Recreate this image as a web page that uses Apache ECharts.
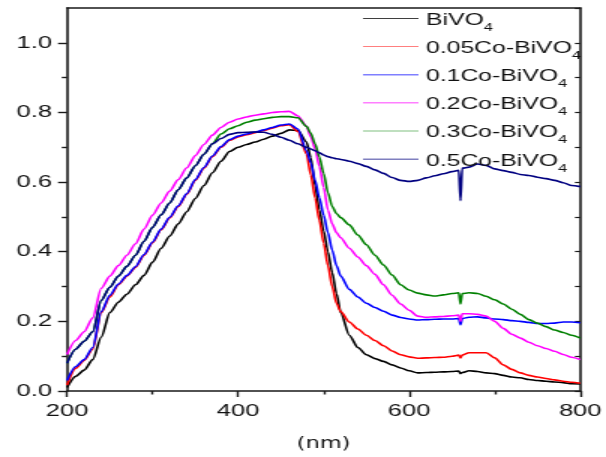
<!DOCTYPE html>
<html>
<head>
<meta charset="utf-8">
<script src="https://cdn.jsdelivr.net/npm/echarts@6/dist/echarts.min.js"></script>
<style>
html,body{margin:0;padding:0;background:#fff;overflow:hidden;}
#c{width:404px;height:457px;transform:scaleX(1.5);transform-origin:0 0;}
</style>
</head>
<body>
<div id="c"></div>
<script>
// Wavelength (nm)
const wavelengths = [200,210,220,230,240,250,260,270,280,290,300,310,320,330,340,350,360,370,380,390,400,410,420,430,440,450,460,470,480,485,490,495,500,505,510,515,520,530,540,550,560,570,580,590,600,610,620,630,640,650,658,660,662,670,680,690,700,710,720,730,740,750,760,770,780,790,800];

const seriesNames = ['BiVO4','0.05Co-BiVO4','0.1Co-BiVO4','0.2Co-BiVO4','0.3Co-BiVO4','0.5Co-BiVO4'];
const seriesColors = ['#000000','#ff0000','#0000ff','#ff00ff','#008000','#000080'];

const bivo4 = [0.010,0.042,0.060,0.090,0.155,0.225,0.255,0.278,0.305,0.332,0.370,0.410,0.445,0.480,0.515,0.553,0.590,0.627,0.660,0.688,0.700,0.708,0.715,0.723,0.732,0.740,0.750,0.748,0.715,0.670,0.590,0.520,0.460,0.400,0.340,0.280,0.225,0.160,0.125,0.104,0.093,0.085,0.075,0.066,0.058,0.052,0.053,0.054,0.055,0.056,0.057,0.050,0.053,0.058,0.056,0.052,0.050,0.045,0.040,0.038,0.033,0.030,0.028,0.026,0.024,0.021,0.020];
const co005 = [0.017,0.065,0.088,0.120,0.225,0.270,0.305,0.330,0.355,0.390,0.426,0.463,0.497,0.530,0.565,0.605,0.640,0.673,0.700,0.720,0.730,0.736,0.742,0.748,0.755,0.762,0.765,0.745,0.680,0.620,0.555,0.490,0.425,0.360,0.300,0.252,0.228,0.198,0.178,0.160,0.145,0.130,0.115,0.104,0.098,0.094,0.095,0.096,0.097,0.100,0.103,0.095,0.103,0.110,0.110,0.110,0.095,0.075,0.062,0.052,0.045,0.040,0.036,0.032,0.028,0.025,0.022];
const co01 = [0.030,0.070,0.090,0.125,0.228,0.275,0.307,0.332,0.357,0.392,0.428,0.465,0.499,0.532,0.567,0.607,0.642,0.675,0.702,0.722,0.732,0.738,0.744,0.750,0.757,0.764,0.767,0.752,0.690,0.655,0.605,0.555,0.505,0.455,0.405,0.360,0.330,0.292,0.270,0.252,0.240,0.229,0.218,0.211,0.207,0.204,0.205,0.206,0.207,0.207,0.208,0.190,0.208,0.212,0.213,0.210,0.207,0.205,0.202,0.200,0.197,0.194,0.194,0.195,0.198,0.198,0.196];
const co02 = [0.105,0.145,0.170,0.210,0.295,0.330,0.360,0.390,0.423,0.465,0.505,0.540,0.574,0.607,0.641,0.676,0.708,0.735,0.757,0.772,0.781,0.787,0.792,0.796,0.800,0.802,0.803,0.790,0.760,0.730,0.695,0.645,0.585,0.520,0.480,0.455,0.440,0.410,0.385,0.360,0.335,0.305,0.275,0.250,0.232,0.215,0.212,0.213,0.214,0.216,0.218,0.200,0.222,0.222,0.220,0.215,0.200,0.180,0.163,0.152,0.140,0.130,0.122,0.114,0.105,0.097,0.090];
const co03 = [0.080,0.120,0.143,0.170,0.260,0.298,0.330,0.358,0.390,0.430,0.470,0.506,0.540,0.578,0.612,0.647,0.680,0.710,0.738,0.753,0.762,0.772,0.778,0.782,0.786,0.788,0.788,0.785,0.760,0.740,0.710,0.672,0.625,0.570,0.530,0.510,0.498,0.477,0.448,0.420,0.390,0.362,0.333,0.305,0.290,0.281,0.276,0.273,0.276,0.280,0.282,0.250,0.280,0.282,0.280,0.272,0.262,0.250,0.235,0.220,0.205,0.195,0.185,0.175,0.168,0.160,0.152];
const co05 = [0.080,0.120,0.143,0.170,0.260,0.298,0.330,0.358,0.390,0.430,0.470,0.506,0.540,0.578,0.612,0.647,0.680,0.710,0.725,0.737,0.742,0.743,0.744,0.743,0.737,0.729,0.720,0.710,0.700,0.695,0.690,0.684,0.678,0.673,0.670,0.667,0.665,0.660,0.653,0.645,0.635,0.625,0.613,0.605,0.602,0.605,0.612,0.618,0.624,0.630,0.634,0.547,0.640,0.643,0.652,0.648,0.638,0.633,0.628,0.622,0.619,0.614,0.610,0.605,0.598,0.590,0.587];

const xTicks = [200,400,600,800];
const yTicks = [0,0.2,0.4,0.6,0.8,1.0];
const yMinorTicks = [0.1,0.3,0.5,0.7,0.9];

const allValues = [bivo4, co005, co01, co02, co03, co05];

const FONT = 'Liberation Sans, Arial, sans-serif';
const axisColor = '#1a1a1a';

const chart = echarts.init(document.getElementById('c'), null, {renderer:'canvas'});
chart.setOption({
  animation:false,
  backgroundColor:'#fff',
  grid:{left:44.7, right:14, top:8, bottom:66, containLabel:false},
  legend:{
    show:true, orient:'vertical', left:242, top:12, padding:0,
    icon:'path://M0,0L100,0L100,1.8L0,1.8ZM0,12L100,12', itemWidth:37, itemHeight:12, itemGap:6.6,
    data: seriesNames,
    formatter: function(n){ return '{a|' + n.slice(0,-1) + '}{s|' + n.slice(-1) + '}'; },
    textStyle:{
      color:'#111', fontFamily:FONT, fontSize:16.5,
      rich:{
        a:{fontFamily:FONT, fontSize:16.5, color:'#111', lineHeight:26},
        s:{fontFamily:FONT, fontSize:11, color:'#111', lineHeight:11, verticalAlign:'bottom'}
      }
    }
  },
  xAxis:[{
    type:'value', min:200, max:800, interval:200, position:'bottom',
    name:'(nm)', nameLocation:'middle', nameGap:46,
    nameTextStyle:{fontFamily:'DejaVu Sans', fontSize:15, color:'#111'},
    axisLine:{show:true, onZero:false, lineStyle:{color:axisColor, width:1.6}},
    axisTick:{show:true, inside:false, length:6, lineStyle:{color:axisColor, width:1.4}},
    minorTick:{show:true, splitNumber:2, length:3.5, lineStyle:{color:axisColor, width:1.4}},
    splitLine:{show:false},
    axisLabel:{show:true, margin:12, fontFamily:FONT, fontSize:17, color:'#111', customValues:xTicks}
  },{
    type:'value', min:200, max:800, interval:200, position:'top',
    axisLine:{show:true, onZero:false, lineStyle:{color:axisColor, width:1.6}},
    axisTick:{show:false}, axisLabel:{show:false}, splitLine:{show:false}
  }],
  yAxis:[{
    type:'value', min:0, max:1.1, interval:0.2, position:'left',
    axisLine:{show:true, onZero:false, lineStyle:{color:axisColor, width:1.6}},
    axisTick:{show:true, inside:false, length:6, customValues:yTicks, lineStyle:{color:axisColor, width:1.4}},
    splitLine:{show:false},
    axisLabel:{show:true, margin:10, fontFamily:FONT, fontSize:17, color:'#111', customValues:yTicks,
      formatter: function(v){ return v.toFixed(1); }}
  },{
    type:'value', min:0, max:1.1, position:'left', offset:0,
    axisLine:{show:false},
    axisTick:{show:true, inside:false, length:3.5, customValues:yMinorTicks, lineStyle:{color:axisColor, width:1.4}},
    axisLabel:{show:false}, splitLine:{show:false}
  },{
    type:'value', min:0, max:1.1, interval:0.1, position:'right',
    axisLine:{show:true, onZero:false, lineStyle:{color:axisColor, width:1.6}},
    axisTick:{show:true, inside:true, length:3.5, lineStyle:{color:axisColor, width:1.2}},
    axisLabel:{show:false}, splitLine:{show:false}
  }],
  series: seriesNames.map(function(n,i){ return {
    name:n, type:'line', xAxisIndex:0, yAxisIndex:0,
    showSymbol:false, symbol:'none', smooth:0.25, smoothMonotone:'x',
    lineStyle:{color:seriesColors[i], width:1.6},
    itemStyle:{color:seriesColors[i]},
    data: wavelengths.map(function(w,k){ return [w, allValues[i][k]]; })
  };})
});
</script>
</body>
</html>
